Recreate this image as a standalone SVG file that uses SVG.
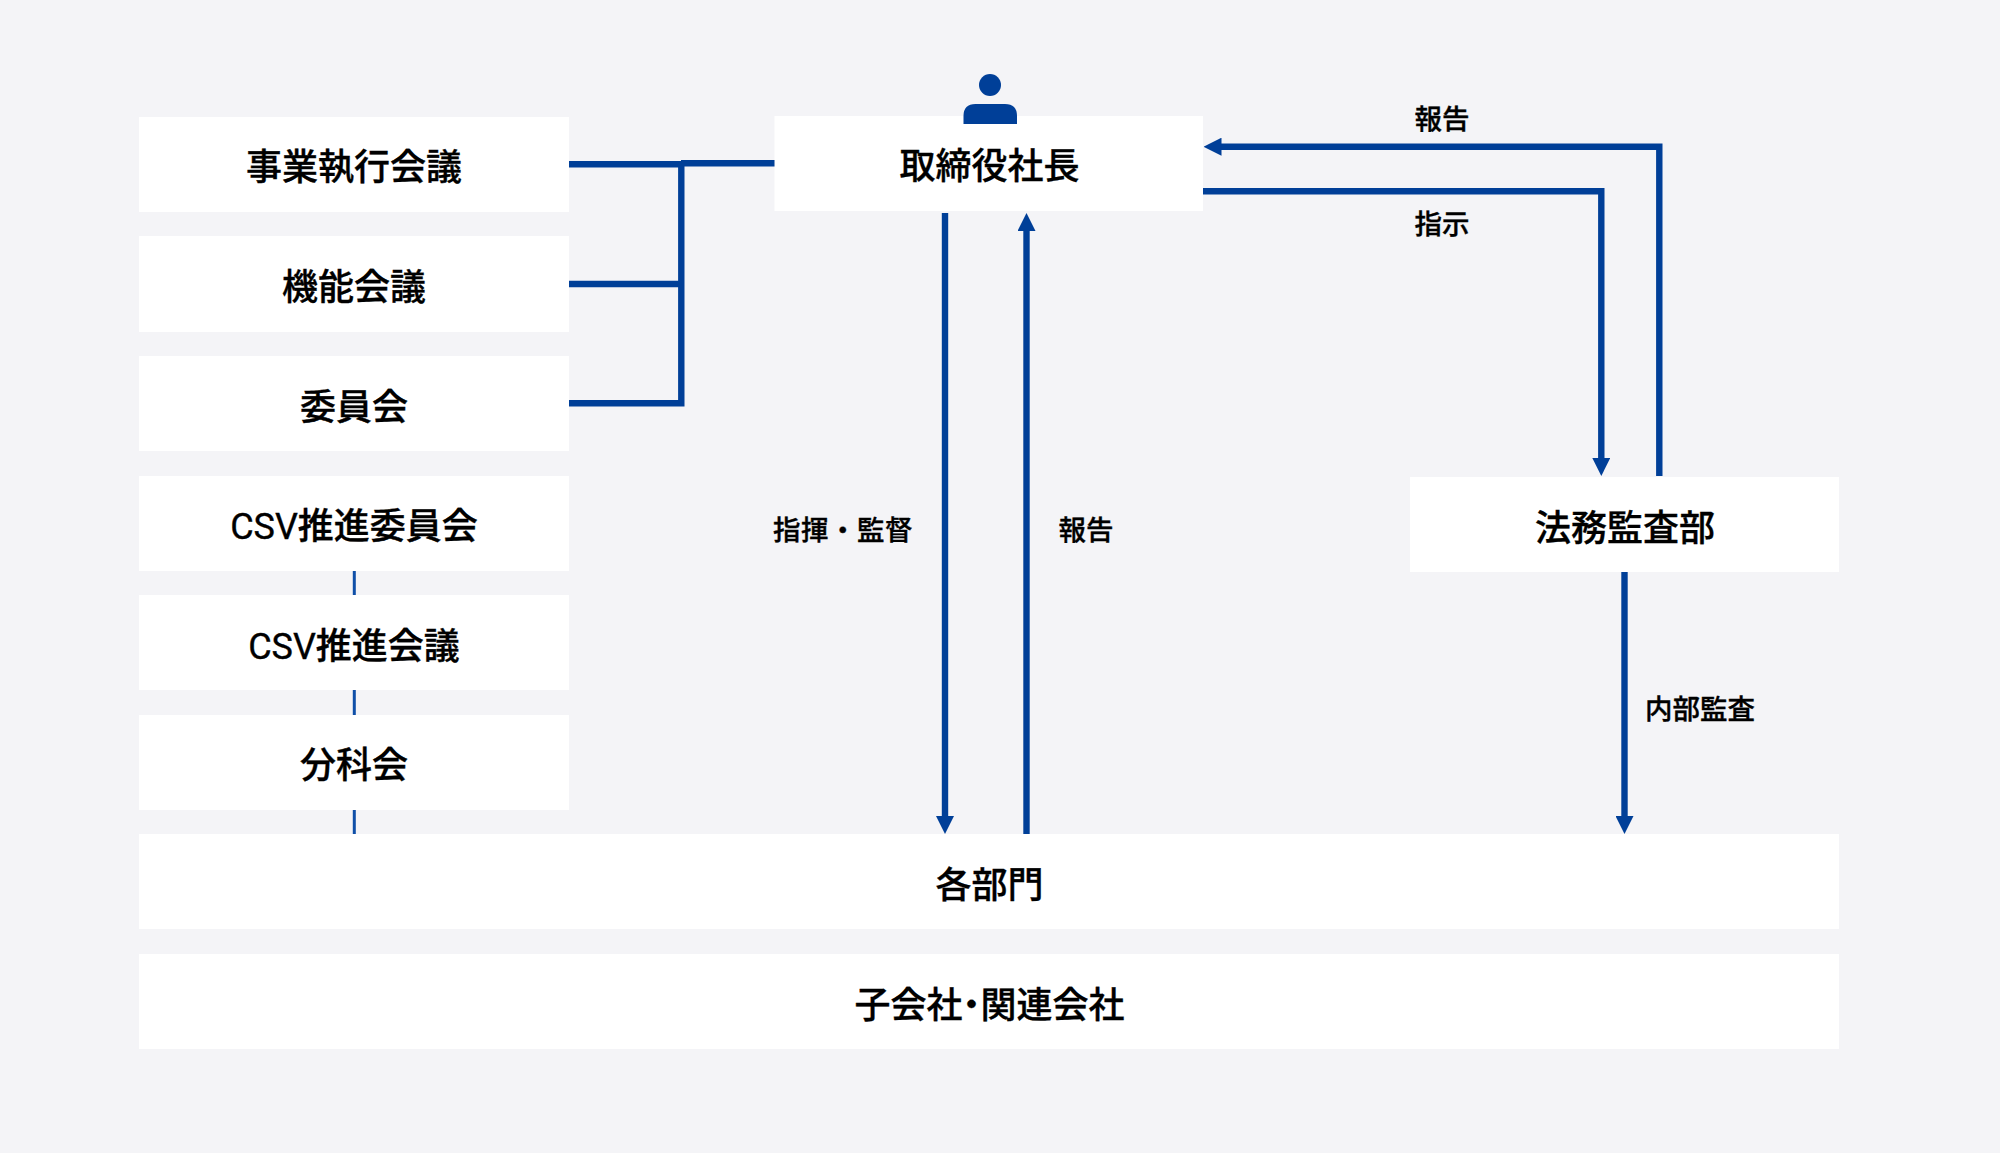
<svg xmlns="http://www.w3.org/2000/svg" width="2000" height="1153" viewBox="0 0 2000 1153">
<style>
.b{fill:#fff}
text{font-family:"Noto Sans CJK JP",sans-serif;fill:#000;text-anchor:middle;stroke:#000;stroke-width:.35px}
.n{font-size:36px;font-weight:500}
.l{font-size:27.500px;font-weight:500}
.r{font-family:Roboto,sans-serif;font-weight:400}
.c{fill:none;stroke:#003f98;stroke-width:6.400}
.t{fill:none;stroke:#0f4fa8;stroke-width:3}
.h{fill:#003f98}
</style>
<defs>
<marker id="a" markerUnits="userSpaceOnUse" markerWidth="18" markerHeight="18" refX="2" refY="9" orient="auto"><path class="h" d="M0 0L18 9L0 18Z"/></marker>
</defs>
<rect width="2000" height="1153" fill="#f4f4f7"/>
<g id="n1"><rect class="b" x="139" y="117" width="430" height="95"/><text class="n" x="354" y="180">事業執行会議</text></g>
<g id="n2"><rect class="b" x="139" y="236" width="430" height="96"/><text class="n" x="354" y="300">機能会議</text></g>
<g id="n3"><rect class="b" x="139" y="356" width="430" height="95"/><text class="n" x="354" y="420">委員会</text></g>
<g id="n4"><rect class="b" x="139" y="476" width="430" height="95"/><text class="n" x="354" y="539"><tspan class="r">CSV</tspan>推進委員会</text></g>
<g id="n5"><rect class="b" x="139" y="595" width="430" height="95"/><text class="n" x="354" y="659"><tspan class="r">CSV</tspan>推進会議</text></g>
<g id="n6"><rect class="b" x="139" y="715" width="430" height="95"/><text class="n" x="354" y="778">分科会</text></g>
<g id="president"><rect class="b" x="774.500" y="116" width="428.500" height="95"/><circle class="h" cx="990" cy="85" r="11"/><path class="h" d="M963.500 124V116Q963.500 104 975.500 104H1005Q1017 104 1017 116V124Z"/><text class="n" x="989.500" y="179">取締役社長</text></g>
<g id="legal"><rect class="b" x="1410" y="477" width="429" height="95"/><text class="n" x="1625" y="540.500">法務監査部</text></g>
<g id="depts"><rect class="b" x="139" y="834" width="1700" height="95"/><text class="n" x="989.500" y="897.500">各部門</text></g>
<g id="subs"><rect class="b" x="139" y="954" width="1700" height="95"/><text class="n" x="989.500" y="1017.500" style="font-feature-settings:'palt'">子会社・関連会社</text></g>
<g id="connectors">
<path class="c" d="M569 164.300H681M681 163.300H774.500M681.300 161V403.300H569M569 284H681"/>
<path class="t" d="M354.300 571V595M354.300 690V715M354.300 810V834"/>
<path class="c" d="M945 213V818" marker-end="url(#a)"/>
<path class="c" d="M1026.500 834V229" marker-end="url(#a)"/>
<path class="c" d="M1659.300 476V146.700H1219.500" marker-end="url(#a)"/>
<path class="c" d="M1203 191.300H1601.300V460" marker-end="url(#a)"/>
<path class="c" d="M1624.500 572V818" marker-end="url(#a)"/>
</g>
<g id="labels">
<text class="l" x="843" y="540" style="letter-spacing:.5px">指揮・監督</text>
<text class="l" x="1086" y="539.500">報告</text>
<text class="l" x="1442" y="129">報告</text>
<text class="l" x="1442" y="234">指示</text>
<text class="l" x="1700" y="719">内部監査</text>
</g>
</svg>
